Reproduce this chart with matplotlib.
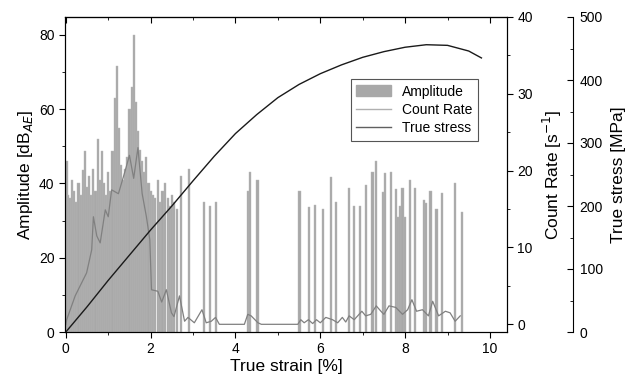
import matplotlib
matplotlib.use('Agg')
import matplotlib.pyplot as plt
from matplotlib.ticker import MultipleLocator
from matplotlib.patches import Patch
from matplotlib.lines import Line2D

# Amplitude hits (true strain [%], amplitude [dB_AE])
amp_strain = [0.02, 0.06, 0.10, 0.15, 0.20, 0.25, 0.30, 0.35, 0.40, 0.45, 0.50, 0.55, 0.60, 0.65,
              0.70, 0.75, 0.80, 0.85, 0.90, 0.95, 1.00, 1.05, 1.10, 1.15, 1.20, 1.25, 1.30, 1.35,
              1.40, 1.45, 1.50, 1.55, 1.60, 1.65, 1.70, 1.75, 1.80, 1.85, 1.90, 1.95, 2.00,
              2.05, 2.10, 2.17, 2.22, 2.28, 2.34, 2.40, 2.45, 2.50, 2.55, 2.62, 2.72, 2.90,
              3.25, 3.39, 3.55, 4.29, 4.35, 4.52, 5.51, 5.73, 5.88, 6.07, 6.25, 6.38, 6.67,
              6.80, 6.94, 7.07, 7.23, 7.31, 7.47, 7.53, 7.66, 7.78, 7.84, 7.88, 7.94, 8.00,
              8.12, 8.24, 8.45, 8.50, 8.60, 8.74, 8.86, 9.18, 9.35]
amp_db = [46, 37, 36, 41, 38, 35, 40, 37, 43.5, 48.6, 39, 42, 37, 44,
          38, 52, 41, 48.6, 40, 37, 43, 38, 48.6, 63, 71.6, 55, 45, 41,
          44, 47, 60, 66, 80, 62, 54, 49, 46, 43, 47, 40, 38,
          37, 36, 41, 35, 38, 40, 36, 34, 37, 35, 33, 42, 44,
          35, 33.8, 34.9, 38, 43.2, 40.9, 38, 33.7, 34.1, 33, 41.8, 35, 38.8,
          33.8, 33.8, 39.7, 43.2, 46, 37.7, 42.7, 43.2, 38.6, 31, 33.8, 38.8, 31,
          40.9, 38.8, 35.5, 34.6, 38, 33.2, 37.3, 40, 32.3]

# Count rate [1/s]
cr_strain = [0, 0.02, 0.22, 0.49, 0.61, 0.65, 0.73, 0.81, 0.93, 1.0, 1.08, 1.24, 1.4, 1.5,
             1.6, 1.7, 1.8, 1.9, 1.98, 2.02, 2.17, 2.26, 2.37, 2.49, 2.55, 2.68, 2.8, 2.88,
             3.03, 3.21, 3.31, 3.43, 3.53, 3.62, 4.21, 4.29, 4.37, 4.53, 4.61, 5.47, 5.54,
             5.62, 5.72, 5.82, 5.91, 6.0, 6.13, 6.29, 6.41, 6.52, 6.6, 6.68, 6.8, 6.98,
             7.07, 7.19, 7.32, 7.43, 7.5, 7.62, 7.78, 7.94, 8.06, 8.16, 8.27, 8.41, 8.55,
             8.65, 8.79, 8.95, 9.06, 9.18, 9.3]
count_rate = [0, 0.6, 3.7, 6.7, 9.7, 14, 11.5, 10.6, 14.9, 14, 17.5, 17, 20, 22,
              19, 23, 17, 14, 11, 4.5, 4.3, 2.9, 4.5, 1.5, 1, 3.7, 0.4, 0.9,
              0.2, 1.9, 0.2, 0.4, 0.9, 0, 0, 1.3, 1.1, 0.2, 0, 0, 0.6,
              0.2, 0.6, 0.1, 0.6, 0.2, 0.9, 0.6, 0.2, 0.9, 0.3, 1.1, 0.6, 1.7,
              1.1, 1.3, 2.4, 1.7, 1.3, 2.4, 2.2, 1.3, 1.9, 3.2, 1.7, 1.9, 1.1,
              3.0, 1.1, 1.7, 1.5, 0.4, 1.1]

# True stress [MPa]
st_strain = [0, 0.5, 1.0, 1.5, 2.0, 2.5, 3.0, 3.5, 4.0, 4.5, 5.0, 5.5, 6.0, 6.5,
             7.0, 7.5, 8.0, 8.5, 9.0, 9.5, 9.8]
true_stress = [0, 40, 82, 122, 162, 200, 240, 279, 315, 345, 372, 393, 410, 424,
               436, 445, 452, 456, 455, 446, 435]

plt.rcParams['font.family'] = ['Liberation Sans', 'DejaVu Sans']

fig = plt.figure(figsize=(6.34, 3.87), dpi=100)
left, bottom, width, height = 0.1025, 0.1395, 0.697, 0.8115
ax = fig.add_axes([left, bottom, width, height])

# amplitude bars
ax.bar(amp_strain, amp_db, width=0.05, color='#a8a8a8', edgecolor='#b8b8b8', linewidth=0.3, zorder=1)
ax.set_xlim(-0.02, 10.4)
ax.set_ylim(0, 84.8)
ax.set_xlabel('True strain [%]', fontsize=12.5, labelpad=2)
ax.set_ylabel('Amplitude [dB$_{AE}$]', fontsize=12.5, labelpad=3)
ax.xaxis.set_major_locator(MultipleLocator(2))
ax.xaxis.set_minor_locator(MultipleLocator(1))
ax.yaxis.set_major_locator(MultipleLocator(20))
ax.yaxis.set_minor_locator(MultipleLocator(10))
ax.tick_params(which='both', direction='out', labelsize=10, right=False)
ax.tick_params(which='major', length=4)
ax.tick_params(which='minor', length=2)

# top ticks pointing in
top = ax.secondary_xaxis('top')
top.xaxis.set_major_locator(MultipleLocator(2))
top.xaxis.set_minor_locator(MultipleLocator(1))
top.tick_params(which='both', direction='in', labeltop=False)
top.tick_params(which='major', length=4)
top.tick_params(which='minor', length=2)

# count rate axis
ax2 = ax.twinx()
ax2.plot(cr_strain, count_rate, color='#808080', linewidth=0.9)
ax2.set_ylim(-1.0, 40.0)
ax2.yaxis.set_major_locator(MultipleLocator(10))
ax2.yaxis.set_minor_locator(MultipleLocator(5))
ax2.tick_params(which='both', direction='out', labelsize=10)
ax2.tick_params(which='major', length=4)
ax2.tick_params(which='minor', length=2)
ax2.set_ylabel('Count Rate [s$^{-1}$]', fontsize=12.5, labelpad=6)

# true stress axis, slightly taller than the main box
ax3 = ax.twinx()
ax3.set_position([left, 55 / 387, width, 315 / 387])
ax3.plot(st_strain, true_stress, color='#1a1a1a', linewidth=1.0)
ax3.set_ylim(0, 500)
ax3.spines['right'].set_position(('axes', 1.149))
for s in ['left', 'top', 'bottom']:
    ax3.spines[s].set_visible(False)
ax3.yaxis.set_major_locator(MultipleLocator(100))
ax3.yaxis.set_minor_locator(MultipleLocator(50))
ax3.tick_params(which='both', direction='in', labelsize=10, pad=5)
ax3.tick_params(which='major', length=4)
ax3.tick_params(which='minor', length=2)
ax3.set_ylabel('True stress [MPa]', fontsize=12.5, labelpad=6)

handles = [Patch(facecolor='#a8a8a8', edgecolor='#a8a8a8'),
           Line2D([], [], color='#b0b0b0', linewidth=1),
           Line2D([], [], color='#606060', linewidth=1)]
leg = ax3.legend(handles, ['Amplitude', 'Count Rate', 'True stress'],
                 loc='upper right', bbox_to_anchor=(0.95, 0.825), bbox_transform=ax.transAxes,
                 fontsize=10, fancybox=False, edgecolor='#555555', framealpha=1,
                 handlelength=2.5, handleheight=0.8, labelspacing=0.3, borderpad=0.4)
leg.get_frame().set_linewidth(0.8)

fig.savefig('out.png', dpi=100)
